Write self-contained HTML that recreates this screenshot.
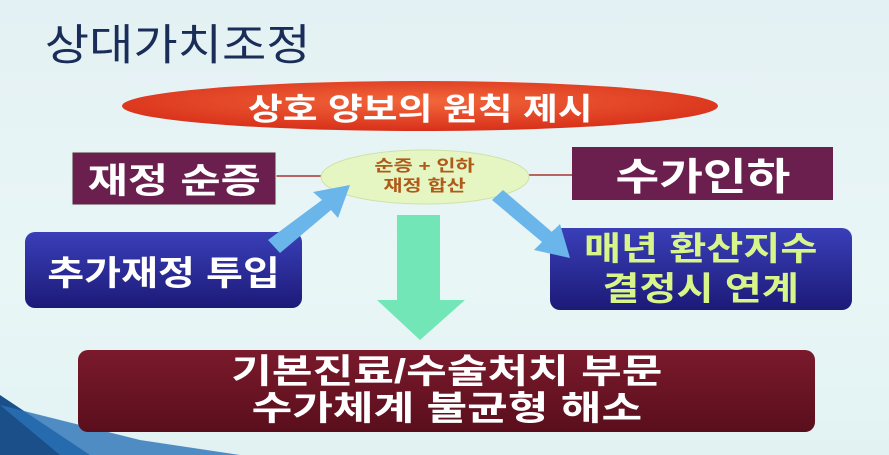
<!DOCTYPE html>
<html><head><meta charset="utf-8"><style>
body{margin:0;width:889px;height:455px;overflow:hidden;background:linear-gradient(180deg,#e4f1f4,#e9f6f6 60%,#e2f2f3);font-family:"Liberation Sans","Noto Sans CJK KR","NanumGothic",sans-serif;position:relative}
.a{position:absolute;display:flex;align-items:center;justify-content:center;text-align:center;font-weight:bold}
.a span{display:inline-block;transform:scaleX(1.25);white-space:nowrap}
</style></head><body>
<svg width="889" height="455" style="position:absolute;left:0;top:0">
<defs>
<radialGradient id="r" cx="50%" cy="40%" r="60%"><stop offset="0" stop-color="#f2673b"/><stop offset="1" stop-color="#d8301a"/></radialGradient>
<linearGradient id="b" x1="0" y1="0" x2="0" y2="1"><stop offset="0" stop-color="#3a3fb8"/><stop offset="1" stop-color="#1c1a78"/></linearGradient>
<linearGradient id="m" x1="0" y1="0" x2="0" y2="1"><stop offset="0" stop-color="#7a1a2c"/><stop offset="1" stop-color="#5a0e1c"/></linearGradient>
</defs>
<polygon points="0,395 90,455 0,455" fill="#1b4f8a"/>
<polygon points="0,405 140,440 240,455 60,455" fill="#2a72b8" opacity=".8"/>
<ellipse cx="420" cy="106" rx="298" ry="25" fill="url(#r)"/>
<line x1="276" y1="176" x2="322" y2="176" stroke="#a33" stroke-width="1.5"/>
<line x1="528" y1="175" x2="572" y2="175" stroke="#a33" stroke-width="1.5"/>
<ellipse cx="425" cy="177" rx="104" ry="27" fill="#e6f6c2" stroke="#cfe2a8"/>
<rect x="72" y="152" width="204" height="53" fill="#6b1f4f" stroke="#cfd" stroke-width="1"/>
<rect x="572" y="147" width="261" height="53" fill="#6b1f4f"/>
<rect x="25" y="232" width="277" height="76" rx="10" fill="url(#b)"/>
<rect x="550" y="228" width="302" height="82" rx="10" fill="url(#b)"/>
<polygon points="397,215 440,215 440,300 465,300 420,340 377,300 397,300" fill="#72e6b6"/>
<polygon points="268,240 322,200 313,192 350,185 338,218 331,210 280,253" fill="#6ab6ea"/>
<polygon points="492,200 503,190 552,232 560,224 570,258 534,250 542,242" fill="#6ab6ea"/>
<rect x="78" y="350" width="737" height="82" rx="10" fill="url(#m)"/>
</svg>
<div class="a" style="left:30px;top:16px;width:295px;height:52px;font-size:43px;font-weight:normal;color:#1a2d58"><span style="transform:scaleX(1.12)">상대가치조정</span></div>
<div class="a" style="left:122px;top:82px;width:596px;height:48px;font-size:31px;color:#fff"><span style="transform:scaleX(1.22)">상호 양보의 원칙 제시</span></div>
<div class="a" style="left:72px;top:152px;width:204px;height:53px;font-size:35px;color:#fff"><span>재정 순증</span></div>
<div class="a" style="left:572px;top:147px;width:261px;height:53px;font-size:38px;color:#fff"><span>수가인하</span></div>
<div class="a" style="left:322px;top:152px;width:206px;height:50px;font-size:16px;color:#b05a1a;line-height:20px"><span style="transform:scaleX(1.3)">순증 + 인하<br>재정 합산</span></div>
<div class="a" style="left:25px;top:232px;width:277px;height:76px;font-size:34px;color:#fff"><span style="transform:scaleX(1.18)">추가재정 투입</span></div>
<div class="a" style="left:550px;top:228px;width:302px;height:82px;font-size:33px;color:#d8f58a;line-height:40px"><span style="transform:scaleX(1.22)">매년 환산지수<br>결정시 연계</span></div>
<div class="a" style="left:78px;top:350px;width:737px;height:82px;font-size:34px;color:#fff;line-height:37px"><span style="transform:scaleX(1.3)">기본진료/수술처치 부문<br>수가체계 불균형 해소</span></div>
</body></html>
